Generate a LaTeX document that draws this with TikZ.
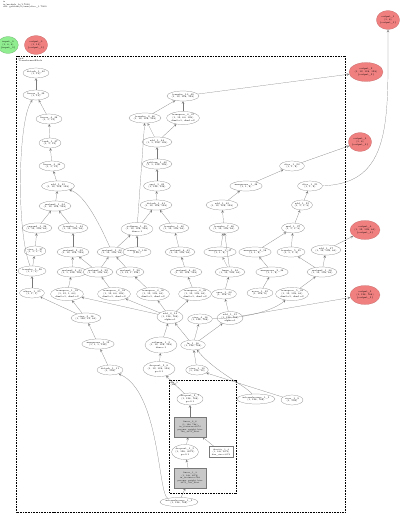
\documentclass[tikz,border=0pt]{standalone}
\usepackage{xcolor}
\usetikzlibrary{shapes,arrows,positioning,fit,backgrounds}
\definecolor{outRed}{RGB}{240,128,128}
\definecolor{inGreen}{RGB}{144,238,144}
\definecolor{opGray}{RGB}{200,200,200}
\definecolor{lineGray}{RGB}{120,120,120}

\begin{document}
\begin{tikzpicture}[x=1pt, y=-1pt,
			op/.style={draw=lineGray, ellipse, line width=0.2pt, fill=white, inner sep=0pt,
				minimum width=26pt, minimum height=10pt, align=center, font=\fontsize{2.3}{2.7}\selectfont},
			op3/.style={op, minimum height=13pt},
			gop/.style={draw=lineGray, rectangle, line width=0.2pt, fill=opGray, inner sep=0.3pt,
				minimum width=32pt, minimum height=20pt, align=center, font=\fontsize{2}{2.5}\selectfont},
			wop/.style={gop, fill=white, minimum width=24pt, minimum height=11pt},
			outp/.style={op, draw=outRed!80!black, fill=outRed, minimum height=19pt},
			inp/.style={op, draw=inGreen!70!black, fill=inGreen, minimum height=17pt},
			clusterbox/.style={draw=black, line width=0.6pt, dash pattern=on 1pt off 0.6pt},
			lbl/.style={anchor=north west, align=left, inner sep=0pt, font=\fontsize{2.2}{2.6}\selectfont},
			arrow/.style={->, >=stealth, line width=0.2pt, color=lineGray}
			]
			\useasboundingbox (0,0) rectangle (400,516);
			\fill[white] (0,0) rectangle (400,516);
			
			% header and clusters
			\node[lbl] (hdr) at (3,1) {ir\\ir/module\_h/1.7000\\dtf: getitem/0/sum/slice\_1.7000};
			\draw[clusterbox] (16.7,56) rectangle (345.7,512);
			\node[lbl] (fwdlbl) at (18.5,57.5) {fwd\\TransformerBlock};
			\draw[clusterbox] (169,380) rectangle (236,493);
			\node[lbl] (ffnlbl) at (170.5,381.5) {ffn\_1\\(ffn)};
			
			% inputs / outputs
			\node[inp, minimum width=16pt] (input0) at (8,45)      {input\_0\\(1, 4, 6)\\\{input\_0\}};
			\node[outp, minimum width=22pt] (output0) at (36,45)  {output\_0\\(1, 13)\\\{output\_0\}};
			\node[outp, minimum width=23pt] (output1) at (388,20) {output\_1\\(1, 8)\\\{output\_1\}};
			\node[outp, minimum width=34pt] (output2) at (366,72) {output\_2\\(1, 12, 128, 128)\\\{output\_2\}};
			\node[outp, minimum width=23pt] (output3) at (360,142) {output\_3\\(1, 8)\\\{output\_3\}};
			\node[outp, minimum width=30pt] (output4) at (365,230) {output\_4\\(1, 12, 128, 64)\\\{output\_4\}};
			\node[outp, minimum width=30pt] (output5) at (365,295) {output\_5\\(1, 128, 768)\\\{output\_5\}};
			
			% left column
			\node[op] (detach40) at (36,73)    {detach\_1\_40\\(1, 13)};
			\node[op] (linear39) at (36,95)    {linear\_2\_39\\(1, 13)};
			\node[op] (linear38) at (49,119)   {linear\_4\_38\\(1, 1, 13)};
			\node[op, minimum width=21pt] (tanh37) at (50,143) {tanh\_1\_37\\(1, 1, 13)};
			\node[op] (linear36) at (52,166)   {linear\_3\_36\\(1, 1, 13)};
			\node[op, minimum width=33pt] (add35) at (58,186) {add\_1\_35\\(1, 12, 128, 128)};
			\node[op] (matmul34) at (55,206)   {matmul\_1\_34\\(1, 12, 128, 128)};
			\node[op] (expand26) at (37,228)   {expand\_1\_26\\(1, 12, 128, 64)};
			\node[op] (transfer33) at (73,228) {transfer\_1\_33\\(1, 12, 128, 64)};
			\node[op, minimum width=20pt] (view27) at (35,251) {view\_1\_27\\(1, 1, 1, 1)};
			\node[op, minimum width=30pt] (matmul32) at (73,252) {matmul\_2\_32\\(1, 12, 128, 128)};
			\node[op, minimum width=25pt] (matmul30) at (112,252) {matmul\_5\_30\\(1, 12, 128, 64)};
			\node[op, minimum width=21pt] (arange106) at (137,252) {arange\_1\_106\\(128,)};
			\node[op] (matmul41) at (180,252)  {matmul\_6\_41\\(1, 12, 128, 64)};
			\node[op, minimum width=25pt] (transfer28) at (32,271) {transfer\_1\_28\\(1, 1, 1)};
			\node[op, minimum width=25pt] (matmul31) at (72,272) {matmul\_3\_31\\(1, 1, 128, 128)};
			\node[op, minimum width=27pt] (matmul29) at (98,272) {matmul\_4\_29\\(1, 12, 128, 64)};
			\node[op] (matmul28) at (130,272)  {matmul\_7\_28\\(1, 12, 1, 128)};
			\node[op, minimum width=27pt] (matmul40) at (186,272) {matmul\_8\_40\\(1, 12, 128, 128)};
			\node[op, minimum width=25pt] (where25) at (32,293) {where\_1\_25\\(1, 1, 1)};
			\node[op3, minimum width=27pt] (transpose23) at (67,294) {transpose\_1\_23\\(1, 12, 1, 64)\\dim0=1, dim1=2};
			\node[op3, minimum width=28pt] (transpose24) at (114,294) {transpose\_2\_24\\(1, 12, 64, 128)\\dim0=1, dim1=2};
			\node[op3, minimum width=27pt] (transpose30) at (153,294) {transpose\_3\_30\\(1, 12, 128, 64)\\dim0=1, dim1=2};
			\node[op3, minimum width=25pt] (transpose39) at (195,294) {transpose\_4\_39\\(1, 12, 128, 64)\\dim0=1, dim1=2};
			\node[op, minimum width=28pt] (view18) at (86,318) {view\_3\_18\\(1, 128, 12, 64)};
			\node[op3] (add14) at (170,317)    {add\_3\_14\\(1, 128, 768)\\alpha=1};
			\node[op, minimum width=20pt] (view16) at (200,319) {view\_4\_16\\(1, 128, 768)};
			\node[op3] (add15) at (230,318)    {add\_1\_15\\(1, 128, 768)\\alpha=1};
			
			% middle column
			\node[op, minimum width=30pt] (transfer49) at (183,96) {transfer\_10\_49\\(1, 12, 128, 128)};
			\node[op, minimum width=27pt] (transfer46) at (145,118) {transfer\_9\_46\\(1, 12, 128, 128)};
			\node[op3, minimum width=30pt] (transpose47) at (183,118) {transpose\_4\_47\\(1, 12, 64, 128)\\dim0=1, dim1=2};
			\node[op, minimum width=27pt] (add44) at (157,142) {add\_1\_44\\(1, 1, 128, 128)};
			\node[op, minimum width=29pt] (getitem43) at (157,164) {getitem\_1\_43\\(1, 1, 128, 128)};
			\node[op, minimum width=27pt] (sqrt42) at (157,186) {sqrt\_1\_42\\(1, 128, 128)};
			\node[op, minimum width=25pt] (detach41) at (156,205) {detach\_1\_41\\(1, 12, 128, 128)};
			\node[op3, minimum width=29pt] (softmax35) at (137,229) {softmax\_1\_35\\(1, 12, 128, 128)\\dim=-1};
			\node[op, minimum width=28pt] (transfer40) at (174,228) {transfer\_1\_40\\(1, 12, 128, 64)};
			
			% right column
			\node[op, minimum width=32pt] (unsqueeze38) at (246,186) {unsqueeze\_1\_38\\(1, 1, 8)};
			\node[op, minimum width=25pt] (slice23) at (292,166) {slice\_1\_23\\(1, 1, 8)};
			\node[op, minimum width=25pt] (slice21) at (310,186) {slice\_1\_21\\(1, 1, 8)};
			\node[op, minimum width=25pt] (add45) at (222,205) {add\_1\_45\\(1, 12, 128, 128)};
			\node[op, minimum width=20pt] (add25) at (302,205) {add\_1\_25\\(1, 1, 1, 8)};
			\node[op, minimum width=25pt] (transfer48) at (224,228) {transfer\_7\_48\\(1, 12, 128, 64)};
			\node[op, minimum width=23pt] (mul27) at (293,228) {mul\_1\_27\\(1, 1, 1, 8)};
			\node[op] (unsqueeze37) at (220,252) {unsqueeze\_1\_37\\(1, 1, 8)};
			\node[op, minimum width=30pt] (unsqueeze58) at (255,252) {unsqueeze\_3\_58\\(1, 1, 8)};
			\node[op, minimum width=25pt] (transfer35) at (291,252) {transfer\_5\_35\\(1, 1, 1, 8)};
			\node[op, minimum width=22pt] (add37) at (326,250) {add\_1\_37\\(1, 12, 128, 64)};
			\node[op] (bmm34) at (230,272)     {bmm\_1\_34\\(1, 12, 128, 64)};
			\node[op, minimum width=30pt] (unsqueezeB38) at (272,272) {unsqueeze\_2\_38\\(1, 1, 8)};
			\node[op, minimum width=27pt] (matmul36) at (322,272) {matmul\_1\_36\\(1, 12, 128, 64)};
			\node[op, minimum width=25pt] (ones33) at (224,294) {ones\_1\_33\\(1, 128, 8)};
			\node[op] (zeros32) at (260,293)   {zeros\_1\_32\\(1, 128, 8)};
			\node[op3, minimum width=30pt] (transpose33) at (292,294) {transpose\_5\_33\\(1, 12, 128, 64)\\dim0=1, dim1=2};
			
			% bottom part
			\node[op, minimum width=30pt] (unsqueeze12) at (98,344) {unsqueeze\_1\_12\\(1, 1, 1, 128)};
			\node[op3, minimum width=27pt, minimum height=16pt] (softmax5) at (161,345) {softmax\_1\_5\\(1, 12, 128, 128)\\dim=-1};
			\node[op, minimum width=20pt] (ln16) at (193,345) {ln\_1\_16\\(1, 128, 768)};
			\node[op] (detach11) at (110,370)  {detach\_1\_11\\(1, 128)};
			\node[op3, minimum width=32pt, minimum height=15pt] (dropout6) at (159,369) {dropout\_2\_6\\(1, 12, 128, 128)\\p=0.1};
			\node[op, minimum width=20pt] (view10) at (197,370) {view\_1\_10\\(1, 128, 12)};
			\node[op, minimum width=33pt] (isrc5) at (256,399) {internalsource\_1\_5\\(1, 128, 768)};
			\node[op, minimum width=22pt] (view9) at (292,400) {view\_1\_9\\(1, 128)};
			\node[op3, minimum height=12pt] (dropout7) at (190,399) {dropout\_2\_7\\(1, 128, 768)\\p=0.1};
			\node[gop] (linear6) at (190,427)  {linear\_2\_6\\(1, 128, 768)\\in\_features=3072\\params: weight, bias\\768\_3072\_float};
			\node[op3, minimum width=24pt, minimum height=15pt] (dropout5) at (185,452) {dropout\_1\_5\\(1, 128, 3072)\\p=0.1};
			\node[wop] (identity4) at (221,452) {identity\_1\_4\\(1, 128, 3072)\\dim\_size=3072};
			\node[gop] (linear3) at (190,478)  {linear\_1\_3\\(1, 128, 3072)\\in\_features=768\\params: weight, bias\\3072\_768\_float};
			\node[op, minimum width=35pt, minimum height=9pt] (isrc2) at (179,502) {internalsource\_1\_2\\(1, 128, 768)};
			
			% edges, left column
			\draw[arrow] (linear39) -- (detach40);
			\draw[arrow] (linear38) -- (linear39);
			\draw[arrow] (transfer28) .. controls (16,230) and (18,120) .. (linear39);
			\draw[arrow] (tanh37) -- (linear38);
			\draw[arrow] (linear36) -- (tanh37);
			\draw[arrow] (add35) -- (linear36);
			\draw[arrow] (matmul34) -- (add35);
			\draw[arrow] (matmul30) .. controls (100,225) and (85,195) .. (add35);
			\draw[arrow] (expand26) -- (matmul34);
			\draw[arrow] (transfer33) -- (matmul34);
			\draw[arrow] (view27) -- (expand26);
			\draw[arrow] (matmul32) -- (transfer33);
			\draw[arrow] (matmul31) -- (matmul32);
			\draw[arrow] (transpose23) -- (matmul31);
			\draw[arrow] (where25) -- (transfer28);
			\draw[arrow] (transfer28) -- (view27);
			\draw[arrow] (transpose24) -- (matmul29);
			\draw[arrow] (matmul29) -- (matmul30);
			\draw[arrow] (matmul29) -- (matmul32);
			\draw[arrow] (transpose30) -- (matmul28);
			\draw[arrow] (matmul28) -- (matmul30);
			\draw[arrow] (matmul30) -- (softmax35);
			\draw[arrow] (arange106) -- (softmax35);
			\draw[arrow] (view18) -- (transpose23);
			\draw[arrow] (view18) -- (where25);
			\draw[arrow] (unsqueeze12) -- (view18);
			\draw[arrow] (detach11) -- (unsqueeze12);
			
			% edges, middle column
			\draw[arrow] (softmax35) -- (transfer46);
			\draw[arrow] (softmax35) -- (detach41);
			\draw[arrow] (detach41) -- (sqrt42);
			\draw[arrow] (sqrt42) -- (getitem43);
			\draw[arrow] (getitem43) -- (add44);
			\draw[arrow] (add44) -- (transfer46);
			\draw[arrow] (add44) -- (transpose47);
			\draw[arrow] (transfer46) -- (transfer49);
			\draw[arrow] (transpose47) -- (transfer49);
			\draw[arrow] (transfer49) -- (output2);
			\draw[arrow] (transpose39) -- (matmul40);
			\draw[arrow] (matmul40) -- (matmul41);
			\draw[arrow] (matmul41) -- (transfer40);
			\draw[arrow] (transfer40) -- (detach41);
			\draw[arrow] (add14) -- (transpose23);
			\draw[arrow] (add14) -- (transpose24);
			\draw[arrow] (add14) -- (transpose30);
			\draw[arrow] (add14) -- (transpose39);
			\draw[arrow] (softmax5) -- (add14);
			\draw[arrow] (ln16) -- (add14);
			\draw[arrow] (ln16) -- (view16);
			\draw[arrow] (ln16) -- (add15);
			\draw[arrow] (dropout6) -- (softmax5);
			\draw[arrow] (view10) -- (ln16);
			\draw[arrow] (view9) -- (view10);
			\draw[arrow] (isrc5) .. controls (245,385) and (215,372) .. (ln16);
			\draw[arrow] (view16) .. controls (260,318) and (280,305) .. (transpose33);
			
			% edges, right column
			\draw[arrow] (slice23) -- (output3);
			\draw[arrow] (slice21) .. controls (392,184) and (388,120) .. (output1);
			\draw[arrow] (unsqueeze38) -- (slice23);
			\draw[arrow] (add45) -- (unsqueeze38);
			\draw[arrow] (add25) -- (slice21);
			\draw[arrow] (transfer48) -- (add45);
			\draw[arrow] (mul27) -- (add25);
			\draw[arrow] (unsqueeze37) -- (transfer48);
			\draw[arrow] (unsqueeze58) -- (mul27);
			\draw[arrow] (transfer35) -- (mul27);
			\draw[arrow] (bmm34) -- (unsqueeze37);
			\draw[arrow] (bmm34) -- (transfer48);
			\draw[arrow] (ones33) -- (bmm34);
			\draw[arrow] (unsqueezeB38) -- (unsqueeze58);
			\draw[arrow] (zeros32) -- (unsqueezeB38);
			\draw[arrow] (matmul36) -- (add37);
			\draw[arrow] (matmul36) -- (transfer35);
			\draw[arrow] (transpose33) -- (matmul36);
			\draw[arrow] (add37) -- (output4);
			\draw[arrow] (add15) -- (output5);
			\draw[arrow] (add15) -- (ones33);
			
			% edges, ffn block
			\draw[arrow] (isrc2) -- (linear3);
			\draw[arrow] (linear3) -- (dropout5);
			\draw[arrow] (dropout5) -- (linear6);
			\draw[arrow] (identity4) -- (linear6);
			\draw[arrow] (linear6) -- (dropout7);
			\draw[arrow] (dropout7) -- (dropout6);
			\draw[arrow] (isrc2) .. controls (158,495) and (160,392) .. (detach11);
		\end{tikzpicture}
\end{document}
